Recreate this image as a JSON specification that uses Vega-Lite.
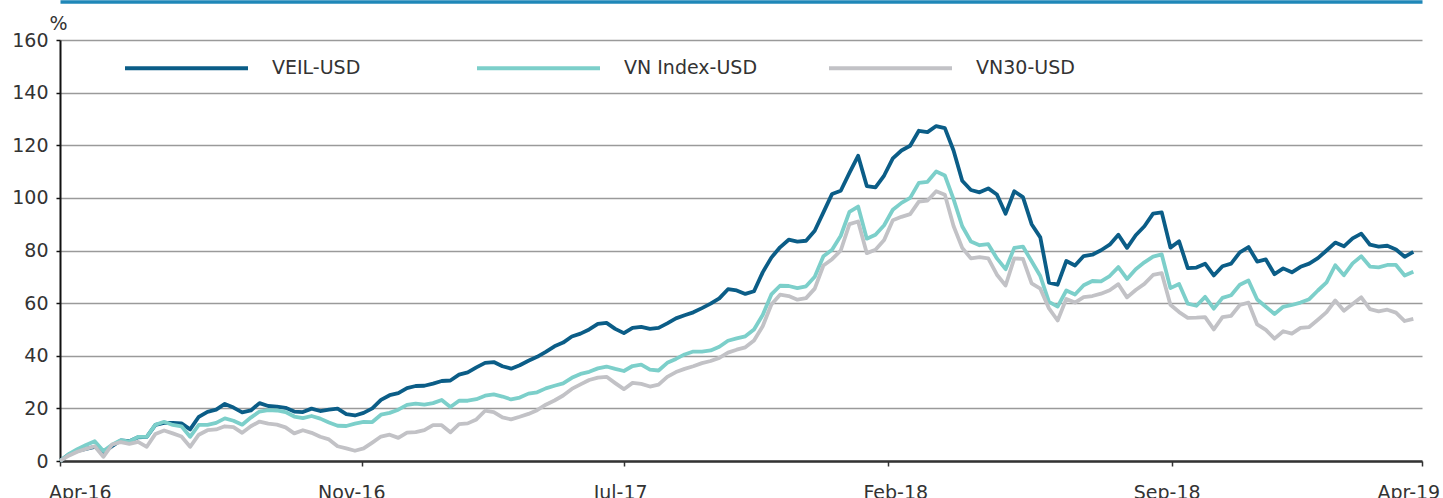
{
"$schema": "https://vega.github.io/schema/vega-lite/v6.json",
"width": 1362, "height": 421,
"autosize": "none",
"padding": {"left": 60, "top": 40, "right": 21, "bottom": 37},
"background": "white",
"config": {"font": "DejaVu Sans", "view": {"stroke": null}},
"data": {"values": [
{"date":"2016-04-01","veil":0,"vni":0,"vn30":0},
{"date":"2016-04-08","veil":2.5,"vni":2.6,"vn30":2.0},
{"date":"2016-04-15","veil":3.8,"vni":4.5,"vn30":3.5},
{"date":"2016-04-22","veil":4.6,"vni":6.1,"vn30":4.6},
{"date":"2016-04-29","veil":5.4,"vni":7.5,"vn30":5.6},
{"date":"2016-05-06","veil":3.2,"vni":3.8,"vn30":1.6},
{"date":"2016-05-13","veil":5.6,"vni":6.2,"vn30":6.2},
{"date":"2016-05-20","veil":7.8,"vni":7.9,"vn30":7.2},
{"date":"2016-05-27","veil":7.5,"vni":7.4,"vn30":6.5},
{"date":"2016-06-03","veil":9.0,"vni":9.2,"vn30":7.3},
{"date":"2016-06-10","veil":9.2,"vni":9.2,"vn30":5.4},
{"date":"2016-06-17","veil":13.7,"vni":13.8,"vn30":10.3},
{"date":"2016-06-24","veil":14.5,"vni":14.9,"vn30":11.6},
{"date":"2016-07-01","veil":14.5,"vni":13.7,"vn30":10.5},
{"date":"2016-07-08","veil":14.3,"vni":13.2,"vn30":9.3},
{"date":"2016-07-15","veil":12.0,"vni":9.2,"vn30":5.4},
{"date":"2016-07-22","veil":16.8,"vni":13.7,"vn30":10.0},
{"date":"2016-07-29","veil":18.7,"vni":13.7,"vn30":11.7},
{"date":"2016-08-05","veil":19.5,"vni":14.5,"vn30":12.0},
{"date":"2016-08-12","veil":21.7,"vni":16.2,"vn30":13.2},
{"date":"2016-08-19","veil":20.3,"vni":15.3,"vn30":12.9},
{"date":"2016-08-26","veil":18.5,"vni":13.8,"vn30":10.7},
{"date":"2016-09-02","veil":19.2,"vni":16.5,"vn30":13.2},
{"date":"2016-09-09","veil":22.0,"vni":18.8,"vn30":15.0},
{"date":"2016-09-16","veil":20.9,"vni":19.3,"vn30":14.2},
{"date":"2016-09-23","veil":20.7,"vni":19.2,"vn30":13.8},
{"date":"2016-09-30","veil":20.2,"vni":18.6,"vn30":12.8},
{"date":"2016-10-07","veil":18.8,"vni":16.9,"vn30":10.5},
{"date":"2016-10-14","veil":18.6,"vni":16.3,"vn30":11.7},
{"date":"2016-10-21","veil":19.9,"vni":17.1,"vn30":10.7},
{"date":"2016-10-28","veil":19.0,"vni":16.1,"vn30":9.2},
{"date":"2016-11-04","veil":19.5,"vni":14.6,"vn30":8.2},
{"date":"2016-11-11","veil":19.9,"vni":13.4,"vn30":5.6},
{"date":"2016-11-18","veil":17.8,"vni":13.3,"vn30":4.8},
{"date":"2016-11-25","veil":17.3,"vni":14.2,"vn30":3.9},
{"date":"2016-12-02","veil":18.3,"vni":14.9,"vn30":4.8},
{"date":"2016-12-09","veil":20.0,"vni":14.8,"vn30":7.0},
{"date":"2016-12-16","veil":23.2,"vni":17.6,"vn30":9.3},
{"date":"2016-12-23","veil":25.0,"vni":18.3,"vn30":10.0},
{"date":"2016-12-30","veil":25.8,"vni":19.5,"vn30":8.8},
{"date":"2017-01-06","veil":27.7,"vni":21.3,"vn30":10.8},
{"date":"2017-01-13","veil":28.5,"vni":21.8,"vn30":11.0},
{"date":"2017-01-20","veil":28.6,"vni":21.4,"vn30":11.7},
{"date":"2017-01-27","veil":29.4,"vni":22.0,"vn30":13.6},
{"date":"2017-02-03","veil":30.4,"vni":23.2,"vn30":13.6},
{"date":"2017-02-10","veil":30.6,"vni":20.5,"vn30":10.9},
{"date":"2017-02-17","veil":32.8,"vni":22.9,"vn30":14.0},
{"date":"2017-02-24","veil":33.7,"vni":22.9,"vn30":14.3},
{"date":"2017-03-03","veil":35.6,"vni":23.5,"vn30":15.8},
{"date":"2017-03-10","veil":37.3,"vni":24.8,"vn30":19.1},
{"date":"2017-03-17","veil":37.6,"vni":25.3,"vn30":18.6},
{"date":"2017-03-24","veil":36.0,"vni":24.5,"vn30":16.6},
{"date":"2017-03-31","veil":35.1,"vni":23.4,"vn30":15.8},
{"date":"2017-04-07","veil":36.4,"vni":24.1,"vn30":16.8},
{"date":"2017-04-14","veil":38.1,"vni":25.6,"vn30":17.9},
{"date":"2017-04-21","veil":39.6,"vni":26.1,"vn30":19.3},
{"date":"2017-04-28","veil":41.5,"vni":27.6,"vn30":21.4},
{"date":"2017-05-05","veil":43.6,"vni":28.6,"vn30":23.0},
{"date":"2017-05-12","veil":45.0,"vni":29.5,"vn30":24.9},
{"date":"2017-05-19","veil":47.3,"vni":31.6,"vn30":27.4},
{"date":"2017-05-26","veil":48.4,"vni":33.1,"vn30":29.1},
{"date":"2017-06-02","veil":50.0,"vni":33.9,"vn30":30.8},
{"date":"2017-06-09","veil":52.1,"vni":35.2,"vn30":31.7},
{"date":"2017-06-16","veil":52.5,"vni":35.9,"vn30":32.0},
{"date":"2017-06-23","veil":50.2,"vni":35.0,"vn30":29.6},
{"date":"2017-06-30","veil":48.6,"vni":34.2,"vn30":27.3},
{"date":"2017-07-07","veil":50.6,"vni":36.1,"vn30":29.7},
{"date":"2017-07-14","veil":51.0,"vni":36.6,"vn30":29.3},
{"date":"2017-07-21","veil":50.2,"vni":34.7,"vn30":28.3},
{"date":"2017-07-28","veil":50.6,"vni":34.4,"vn30":29.0},
{"date":"2017-08-04","veil":52.3,"vni":37.3,"vn30":32.0},
{"date":"2017-08-11","veil":54.2,"vni":38.8,"vn30":33.8},
{"date":"2017-08-18","veil":55.4,"vni":40.5,"vn30":35.0},
{"date":"2017-08-25","veil":56.5,"vni":41.6,"vn30":36.0},
{"date":"2017-09-01","veil":58.1,"vni":41.6,"vn30":37.2},
{"date":"2017-09-08","veil":59.8,"vni":42.0,"vn30":38.0},
{"date":"2017-09-15","veil":61.8,"vni":43.4,"vn30":39.2},
{"date":"2017-09-22","veil":65.3,"vni":45.7,"vn30":41.2},
{"date":"2017-09-29","veil":64.8,"vni":46.6,"vn30":42.3},
{"date":"2017-10-06","veil":63.5,"vni":47.4,"vn30":43.2},
{"date":"2017-10-13","veil":64.5,"vni":50.0,"vn30":45.8},
{"date":"2017-10-20","veil":71.7,"vni":55.5,"vn30":51.2},
{"date":"2017-10-27","veil":77.3,"vni":63.3,"vn30":59.5},
{"date":"2017-11-03","veil":81.2,"vni":66.6,"vn30":63.2},
{"date":"2017-11-10","veil":84.1,"vni":66.5,"vn30":62.7},
{"date":"2017-11-17","veil":83.4,"vni":65.7,"vn30":61.3},
{"date":"2017-11-24","veil":83.7,"vni":66.4,"vn30":61.9},
{"date":"2017-12-01","veil":87.5,"vni":70.0,"vn30":65.5},
{"date":"2017-12-08","veil":94.5,"vni":77.8,"vn30":74.3},
{"date":"2017-12-15","veil":101.5,"vni":80.3,"vn30":76.7},
{"date":"2017-12-22","veil":102.7,"vni":85.6,"vn30":80.0},
{"date":"2017-12-29","veil":109.5,"vni":94.7,"vn30":90.0},
{"date":"2018-01-05","veil":116.0,"vni":96.7,"vn30":91.0},
{"date":"2018-01-12","veil":104.5,"vni":84.5,"vn30":79.0},
{"date":"2018-01-19","veil":104.0,"vni":86.0,"vn30":80.3},
{"date":"2018-01-26","veil":108.5,"vni":89.6,"vn30":84.0},
{"date":"2018-02-02","veil":115.0,"vni":95.5,"vn30":91.5},
{"date":"2018-02-09","veil":118.0,"vni":98.1,"vn30":92.8},
{"date":"2018-02-16","veil":119.8,"vni":100.0,"vn30":93.8},
{"date":"2018-02-23","veil":125.5,"vni":105.7,"vn30":98.6},
{"date":"2018-03-02","veil":125.0,"vni":106.1,"vn30":99.0},
{"date":"2018-03-09","veil":127.3,"vni":110.0,"vn30":102.5},
{"date":"2018-03-16","veil":126.5,"vni":108.5,"vn30":101.2},
{"date":"2018-03-23","veil":118.0,"vni":99.5,"vn30":89.3},
{"date":"2018-03-30","veil":106.5,"vni":89.2,"vn30":81.0},
{"date":"2018-04-06","veil":103.0,"vni":83.4,"vn30":77.0},
{"date":"2018-04-13","veil":102.1,"vni":82.0,"vn30":77.5},
{"date":"2018-04-20","veil":103.6,"vni":82.4,"vn30":77.0},
{"date":"2018-04-27","veil":101.3,"vni":77.0,"vn30":70.8},
{"date":"2018-05-04","veil":94.0,"vni":72.9,"vn30":66.7},
{"date":"2018-05-11","veil":102.5,"vni":81.0,"vn30":77.0},
{"date":"2018-05-18","veil":100.3,"vni":81.5,"vn30":76.8},
{"date":"2018-05-25","veil":90.0,"vni":75.9,"vn30":67.5},
{"date":"2018-06-01","veil":85.0,"vni":70.3,"vn30":65.5},
{"date":"2018-06-08","veil":67.8,"vni":60.5,"vn30":58.0},
{"date":"2018-06-15","veil":67.0,"vni":58.7,"vn30":53.4},
{"date":"2018-06-22","veil":76.0,"vni":64.8,"vn30":61.6},
{"date":"2018-06-29","veil":74.3,"vni":63.3,"vn30":60.2},
{"date":"2018-07-06","veil":77.9,"vni":66.8,"vn30":62.3},
{"date":"2018-07-13","veil":78.4,"vni":68.4,"vn30":62.7},
{"date":"2018-07-20","veil":80.1,"vni":68.3,"vn30":63.6},
{"date":"2018-07-27","veil":82.2,"vni":70.3,"vn30":64.9},
{"date":"2018-08-03","veil":86.0,"vni":73.7,"vn30":67.2},
{"date":"2018-08-10","veil":81.0,"vni":69.2,"vn30":62.2},
{"date":"2018-08-17","veil":85.8,"vni":72.9,"vn30":65.0},
{"date":"2018-08-24","veil":89.2,"vni":75.5,"vn30":67.3},
{"date":"2018-08-31","veil":94.0,"vni":77.7,"vn30":70.7},
{"date":"2018-09-07","veil":94.5,"vni":78.5,"vn30":71.4},
{"date":"2018-09-14","veil":81.1,"vni":65.7,"vn30":59.4},
{"date":"2018-09-21","veil":83.5,"vni":67.3,"vn30":56.6},
{"date":"2018-09-28","veil":73.3,"vni":59.8,"vn30":54.4},
{"date":"2018-10-05","veil":73.5,"vni":59.0,"vn30":54.5},
{"date":"2018-10-12","veil":75.0,"vni":62.4,"vn30":54.7},
{"date":"2018-10-19","veil":70.5,"vni":57.9,"vn30":50.0},
{"date":"2018-10-26","veil":74.0,"vni":62.0,"vn30":54.7},
{"date":"2018-11-02","veil":75.0,"vni":63.0,"vn30":55.2},
{"date":"2018-11-09","veil":79.3,"vni":67.0,"vn30":59.3},
{"date":"2018-11-16","veil":81.3,"vni":68.6,"vn30":60.2},
{"date":"2018-11-23","veil":75.8,"vni":61.4,"vn30":51.9},
{"date":"2018-11-30","veil":76.6,"vni":58.6,"vn30":49.8},
{"date":"2018-12-07","veil":71.0,"vni":55.9,"vn30":46.5},
{"date":"2018-12-14","veil":73.2,"vni":58.6,"vn30":49.3},
{"date":"2018-12-21","veil":71.7,"vni":59.3,"vn30":48.4},
{"date":"2018-12-28","veil":73.8,"vni":60.2,"vn30":50.6},
{"date":"2019-01-04","veil":75.0,"vni":61.5,"vn30":50.9},
{"date":"2019-01-11","veil":77.1,"vni":64.8,"vn30":53.7},
{"date":"2019-01-18","veil":80.0,"vni":67.9,"vn30":56.6},
{"date":"2019-01-25","veil":83.0,"vni":74.4,"vn30":61.0},
{"date":"2019-02-01","veil":81.6,"vni":70.6,"vn30":57.1},
{"date":"2019-02-08","veil":84.6,"vni":75.1,"vn30":59.7},
{"date":"2019-02-15","veil":86.4,"vni":77.8,"vn30":62.2},
{"date":"2019-02-22","veil":82.2,"vni":73.9,"vn30":57.7},
{"date":"2019-03-01","veil":81.5,"vni":73.6,"vn30":56.9},
{"date":"2019-03-08","veil":81.8,"vni":74.5,"vn30":57.5},
{"date":"2019-03-15","veil":80.4,"vni":74.5,"vn30":56.4},
{"date":"2019-03-22","veil":77.6,"vni":70.5,"vn30":53.2},
{"date":"2019-03-29","veil":79.5,"vni":71.9,"vn30":54.0}
]},
"transform": [{"fold": ["veil", "vni", "vn30"], "as": ["series", "value"]}],
"encoding": {
  "y": {"field": "value", "type": "quantitative",
    "scale": {"domain": [0, 160], "nice": false, "zero": true},
    "axis": {"values": [0,20,40,60,80,100,120,140,160], "grid": true, "gridColor": "#9a9a9a", "gridWidth": 1.3,
      "domainColor": "#111", "domainWidth": 2, "tickColor": "#111", "tickSize": 4, "tickWidth": 1.5,
      "labelFontSize": 19, "labelColor": "#333", "labelPadding": 8,
      "title": "%", "titleAngle": 0, "titleX": -2, "titleY": -11, "titleAlign": "center", "titleBaseline": "alphabetic",
      "titleFontSize": 19, "titleFontWeight": "normal", "titleColor": "#333"}}
},
"layer": [
  {
    "mark": {"type": "line", "strokeWidth": 3.8, "strokeJoin": "round"},
    "encoding": {
      "x": {"field": "date", "type": "temporal",
        "scale": {"domain": [{"year": 2016, "month": 4, "date": 1, "utc": true}, {"year": 2019, "month": 4, "date": 5, "utc": true}]},
        "axis": {"orient": "bottom", "title": null, "grid": false, "labels": false, "ticks": true, "tickSize": 5, "tickColor": "#333", "tickWidth": 1.5,
          "domainColor": "#333", "domainWidth": 2.5,
          "values": [{"year": 2016, "month": 4, "date": 1, "utc": true}, {"year": 2016, "month": 12, "date": 1, "utc": true}, {"year": 2017, "month": 6, "date": 30, "utc": true}, {"year": 2018, "month": 1, "date": 29, "utc": true}, {"year": 2018, "month": 9, "date": 15, "utc": true}, {"year": 2019, "month": 4, "date": 5, "utc": true}]}},
      "color": {"field": "series", "type": "nominal",
        "scale": {"domain": ["veil", "vni", "vn30"], "range": ["#0b5d87", "#7ccfca", "#c2c2c6"]},
        "legend": {"orient": "none", "legendX": 63, "legendY": -35.5, "direction": "horizontal", "title": null,
          "symbolType": "M-1,0H1", "symbolSize": 15129, "symbolStrokeWidth": 4,
          "labelFontSize": 19, "labelColor": "#333", "labelOffset": 22, "columnPadding": 63, "gridAlign": "all", "padding": 0,
          "labelExpr": "datum.label == 'veil' ? 'VEIL-USD' : datum.label == 'vni' ? 'VN Index-USD' : 'VN30-USD'"}}
    }
  },
  {
    "mark": {"type": "point", "opacity": 0},
    "encoding": {
      "x": {"field": "date", "type": "temporal",
        "scale": {"domain": [{"year": 2016, "month": 4, "date": 1, "utc": true}, {"year": 2019, "month": 4, "date": 5, "utc": true}]},
        "axis": {"orient": "bottom", "title": null, "grid": false, "ticks": false, "domain": false,
          "labelFontSize": 19, "labelColor": "#333", "labelPadding": 22, "labelOverlap": false, "labelBound": false, "labelFlush": false, "labelBaseline": "top",
          "values": [{"year": 2016, "month": 4, "date": 17, "utc": true}, {"year": 2016, "month": 11, "date": 22, "utc": true}, {"year": 2017, "month": 6, "date": 27, "utc": true}, {"year": 2018, "month": 2, "date": 4, "utc": true}, {"year": 2018, "month": 9, "date": 11, "utc": true}, {"year": 2019, "month": 3, "date": 25, "utc": true}],
          "labelExpr": "['Apr-16','Nov-16','Jul-17','Feb-18','Sep-18','Apr-19'][round(datum.index*5)]"}}
    }
  },
  {
    "mark": {"type": "point", "opacity": 0},
    "encoding": {
      "x": {"field": "date", "type": "temporal",
        "scale": {"domain": [{"year": 2016, "month": 4, "date": 1, "utc": true}, {"year": 2019, "month": 4, "date": 5, "utc": true}]},
        "axis": {"orient": "top", "offset": 38.5, "title": null, "grid": false, "ticks": false, "labels": false, "domain": true,
          "domainColor": "#1f87b8", "domainWidth": 3.5}}
    }
  }
],
"resolve": {"axis": {"x": "independent"}}
}
